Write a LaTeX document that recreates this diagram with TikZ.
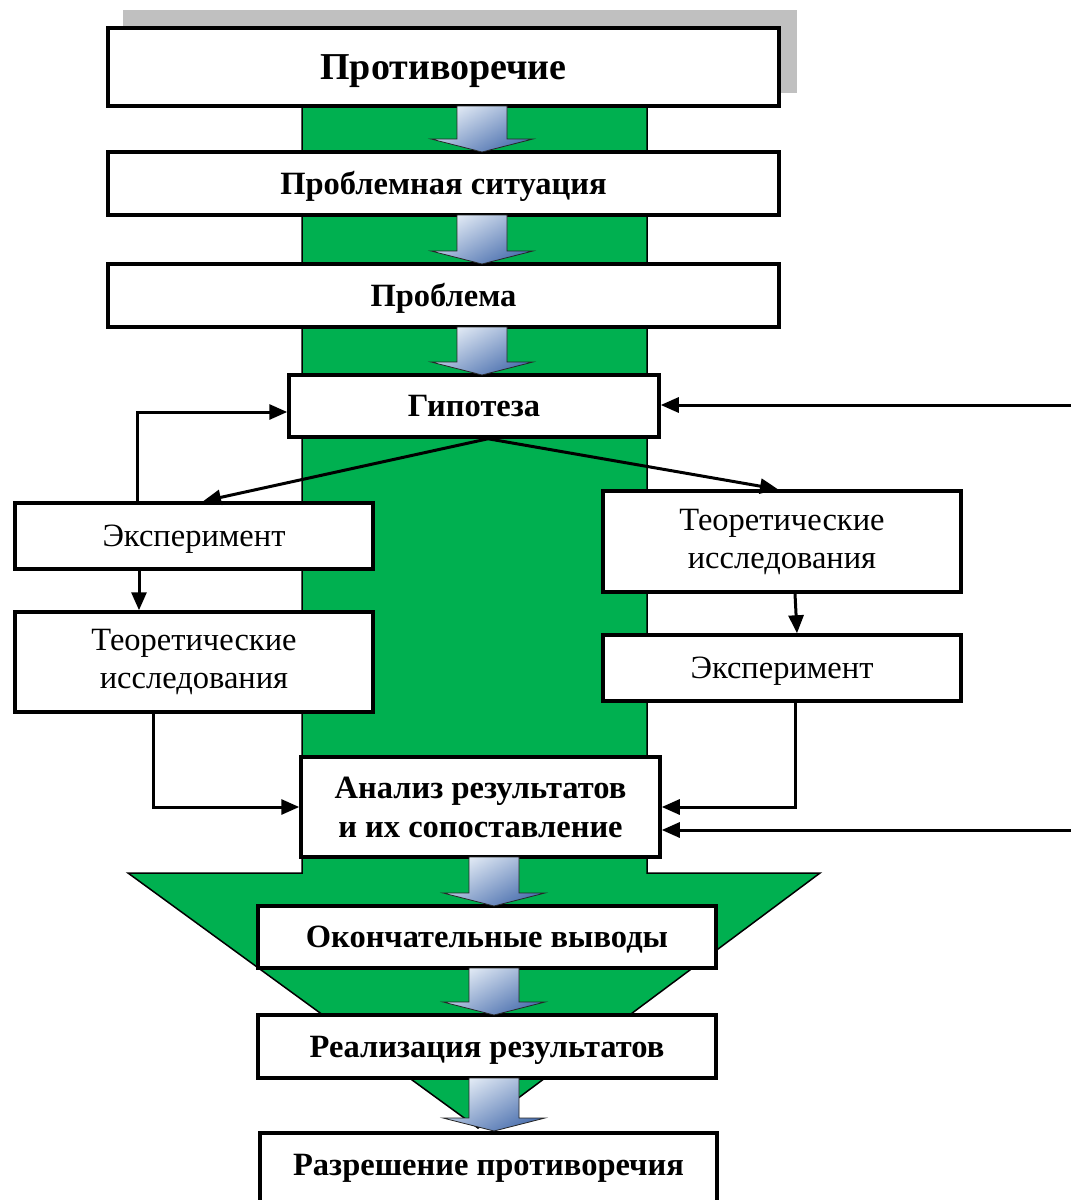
\documentclass[tikz,border=0pt]{standalone}
\usepackage{fontspec}
\setmainfont{Liberation Serif}
\usetikzlibrary{arrows.meta,calc}

\definecolor{colgreen}{HTML}{00B050}
\definecolor{shadowgray}{HTML}{C0C0C0}
\definecolor{blLight}{HTML}{E4ECF6}
\definecolor{blDark}{HTML}{4A6FAE}

\tikzset{
  box/.style={draw, line width=3.5pt, fill=white, inner sep=0pt, align=center},
  oneline/.style={text height=25pt, text depth=3.5pt},
  link/.style={line width=3pt, -{Triangle[length=18pt,width=15pt]}},
  bigtxt/.style={font=\fontsize{38}{45}\selectfont\bfseries, text height=29pt, text depth=4pt},
  boldtxt/.style={font=\fontsize{32.5}{39}\selectfont\bfseries},
  plaintxt/.style={font=\fontsize{32.5}{38}\selectfont},
  flowline/.style={line width=1.5pt},
  blockarrowstyle/.style={top color=blLight, bottom color=blDark, shading angle=30,
    draw=black!85, line width=0.8pt},
}

% wide gradient arrow: centre x, top y, tip y
\newcommand\blockarrow[3]{%
  \shadedraw[blockarrowstyle]
    (#1-25,#2) -- (#1+25,#2) -- (#1+25,#3-13) -- (#1+51,#3-13) -- (#1,#3)
    -- (#1-51,#3-13) -- (#1-25,#3-13) -- cycle;}

\begin{document}
\begin{tikzpicture}[x=1pt, y=-1pt]
  \useasboundingbox (0,0) rectangle (1071,1200);
  \fill[white] (0,0) rectangle (1071,1200);

  % shadow behind the title box
  \fill[shadowgray] (123,10) rectangle (797,93);

  % green column widening into a funnel
  \fill[colgreen] (302,100) -- (302,873) -- (128,873) -- (478,1128) -- (820,873)
    -- (647,873) -- (647,100) -- cycle;
  \draw[flowline] (302,100) -- (302,873) -- (128,873) -- (478,1128) -- (820,873)
    -- (647,873) -- (647,100);

  % main chain
  \node[box, bigtxt, minimum width=671pt, minimum height=78pt] (contr) at (443.5,67) {Противоречие};
  \node[box, oneline, boldtxt, minimum width=671pt, minimum height=63pt] (sit) at (443.5,183.5) {Проблемная ситуация};
  \node[box, oneline, boldtxt, minimum width=671pt, minimum height=63pt] (prob) at (443.5,295.5) {Проблема};
  \node[box, oneline, boldtxt, minimum width=370pt, minimum height=62pt] (gip) at (474,406) {Гипотеза};

  % two branches
  \node[box, oneline, plaintxt, minimum width=358pt, minimum height=66pt] (expL) at (194,536) {Эксперимент};
  \node[box, plaintxt, minimum width=358pt, minimum height=100pt] (teoL) at (194,662) {Теоретические\\исследования};
  \node[box, plaintxt, minimum width=358pt, minimum height=101pt] (teoR) at (782,541.5) {Теоретические\\исследования};
  \node[box, oneline, plaintxt, minimum width=358pt, minimum height=66pt] (expR) at (782,668) {Эксперимент};

  \node[box, boldtxt, minimum width=359pt, minimum height=100pt] (an) at (480.5,807) {Анализ результатов\\и их сопоставление};

  \node[box, oneline, boldtxt, minimum width=458pt, minimum height=62pt] (okn) at (487,937) {Окончательные выводы};
  \node[box, oneline, boldtxt, minimum width=458pt, minimum height=63pt] (real) at (487,1046.5) {Реализация результатов};
  \node[box, minimum width=457pt, minimum height=80pt, anchor=north] (res) at (488.5,1131) {};
  \node[boldtxt, oneline, inner sep=0pt] (restext) at (488.5,1165) {Разрешение противоречия};

  % gradient arrows along the chain
  \blockarrow{482}{106}{152}
  \blockarrow{482}{215}{264}
  \blockarrow{482}{327}{375}
  \blockarrow{494}{857}{906}
  \blockarrow{494}{968}{1015}
  \blockarrow{494}{1078}{1131}

  % connectors
  \draw[link] ([xshift=14pt]gip.south) -- ([xshift=9pt]expL.north);
  \draw[link] ([xshift=14pt]gip.south) -- ([xshift=-4pt]teoR.north);
  \draw[link] ([xshift=-57pt]expL.north) |- ([yshift=-6pt]gip.west);
  \draw[link] ([xshift=-55pt]expL.south) -- ([xshift=-55pt]teoL.north);
  \draw[link] ([xshift=-41pt]teoL.south) |- (an.west);
  \draw[link] ([xshift=13pt]teoR.south) -- ([xshift=15pt]expR.north);
  \draw[link] ([xshift=13pt]expR.south) |- (an.east);

  \coordinate (inG) at (1075,405);
  \coordinate (inA) at (1075,830);
  \draw[link] (inG) -- (gip.east |- inG);
  \draw[link] (inA) -- (an.east |- inA);
\end{tikzpicture}
\end{document}
